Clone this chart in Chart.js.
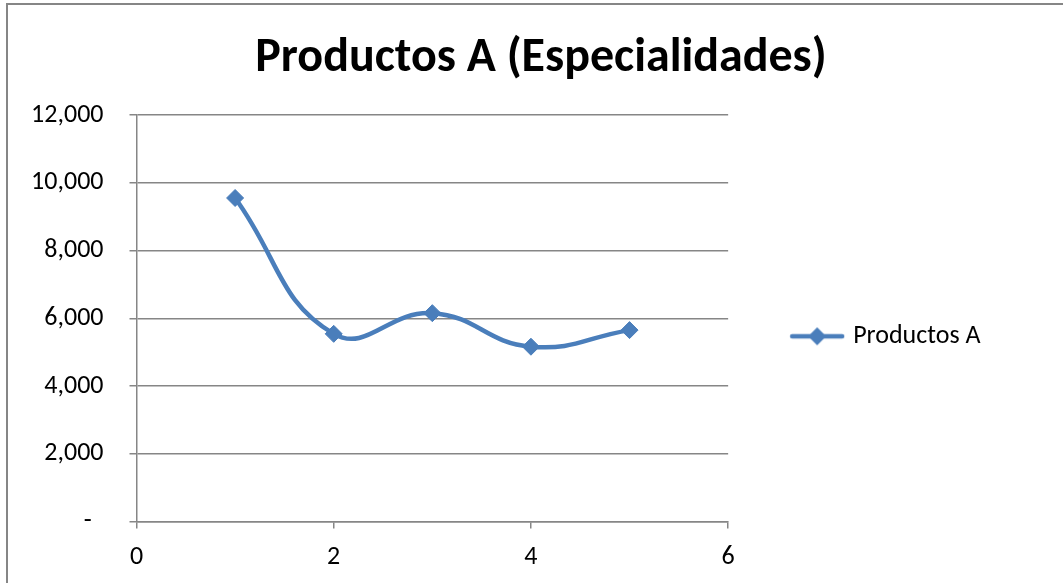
<!DOCTYPE html>
<html>
<head>
<meta charset="utf-8">
<script src="https://cdn.jsdelivr.net/npm/chart.js@4/dist/chart.umd.min.js"></script>
<style>
  html, body { margin: 0; padding: 0; background: #ffffff; }
  #wrap { width: 1063px; height: 583px; position: relative; }
</style>
</head>
<body>
<div id="wrap"><canvas id="c" width="1063" height="583"></canvas></div>
<script>
const chartTitle = 'Productos A (Especialidades)';
const seriesName = 'Productos A';
const xValues = [1, 2, 3, 4, 5];
const yValues = [9550, 5540, 6150, 5160, 5650];
const yTickValues = [0, 2000, 4000, 6000, 8000, 10000, 12000];
const xTickValues = [0, 2, 4, 6];

const FONT = "Carlito, Calibri, Lato, 'Open Sans', sans-serif";
const LINE_COLOR = '#4A7EBB';
const AXIS_GRAY = '#868686';

const PAD_LEFT = 0;
const PAD_RIGHT = -19;
const PLOT_LEFT = 136.5;
const RIGHT_SPACER = 91.5;

// legend marker: line with a diamond
function makeLegendMarker() {
  const c = document.createElement('canvas');
  c.width = 56; c.height = 22;
  const g = c.getContext('2d');
  g.strokeStyle = LINE_COLOR; g.lineWidth = 4.5; g.lineCap = 'round';
  g.beginPath(); g.moveTo(3, 11); g.lineTo(53, 11); g.stroke();
  g.fillStyle = LINE_COLOR;
  g.beginPath(); g.moveTo(28, 2); g.lineTo(37, 11); g.lineTo(28, 20); g.lineTo(19, 11); g.closePath(); g.fill();
  return c;
}
const legendMarker = makeLegendMarker();

const framePlugin = {
  id: 'frame',
  beforeDraw(chart) {
    const ctx = chart.ctx;
    ctx.save();
    ctx.fillStyle = '#ffffff';
    ctx.fillRect(0, 0, chart.width, chart.height);
    ctx.strokeStyle = AXIS_GRAY;
    ctx.lineWidth = 2;
    ctx.strokeRect(7, 4, chart.width + 20, chart.height + 20);
    ctx.restore();
  }
};

new Chart(document.getElementById('c'), {
  type: 'line',
  data: {
    datasets: [{
      label: seriesName,
      data: xValues.map((x, i) => ({ x: x, y: yValues[i] })),
      borderColor: LINE_COLOR,
      backgroundColor: LINE_COLOR,
      borderWidth: 4.5,
      tension: 0.45,
      pointStyle: 'rectRot',
      pointRadius: 8.5,
      pointBorderWidth: 1,
      pointBackgroundColor: LINE_COLOR,
      pointBorderColor: LINE_COLOR,
      fill: false
    }]
  },
  options: {
    responsive: false,
    animation: false,
    events: [],
    layout: { padding: { left: PAD_LEFT, right: PAD_RIGHT, top: 0, bottom: 0 } },
    plugins: {
      title: {
        display: true,
        text: chartTitle,
        color: '#000000',
        font: { family: FONT, size: 48, weight: 'bold', lineHeight: 1.2 },
        padding: { top: 30, bottom: 27.4 }
      },
      legend: {
        display: true,
        position: 'right',
        align: 'center',
        maxWidth: 400,
        title: { display: true, text: ' ', padding: { top: 56, bottom: 0 }, font: { size: 28, lineHeight: 1.2 } },
        labels: {
          usePointStyle: true,
          pointStyleWidth: 46,
          padding: 66,
          color: '#000000',
          font: { family: FONT, size: 26 },
          generateLabels(chart) {
            return chart.data.datasets.map((ds, i) => ({
              text: ds.label,
              pointStyle: legendMarker,
              fillStyle: ds.borderColor,
              strokeStyle: ds.borderColor,
              fontColor: '#000000',
              lineWidth: 0,
              hidden: false,
              datasetIndex: i
            }));
          }
        }
      },
      tooltip: { enabled: false }
    },
    scales: {
      x: {
        type: 'linear',
        min: 0, max: 6,
        afterBuildTicks(scale) { scale.ticks = xTickValues.map(v => ({ value: v })); },
        afterFit(scale) { scale.height = 61.5; },
        grid: { drawOnChartArea: false, drawTicks: true, tickLength: 7, color: AXIS_GRAY, lineWidth: 1.5 },
        border: { display: true, color: AXIS_GRAY, width: 1.5 },
        ticks: { color: '#000000', font: { family: FONT, size: 26 }, padding: 13, maxRotation: 0 }
      },
      y: {
        type: 'linear',
        min: 0, max: 12000,
        afterBuildTicks(scale) { scale.ticks = yTickValues.map(v => ({ value: v })); },
        afterFit(scale) { scale.width = PLOT_LEFT - PAD_LEFT; },
        grid: { drawOnChartArea: true, drawTicks: true, tickLength: 7, color: AXIS_GRAY, lineWidth: 1.5 },
        border: { display: true, color: AXIS_GRAY, width: 1.5 },
        ticks: {
          color: '#000000',
          font: { family: FONT, size: 26 },
          padding: 26,
          callback: v => v === 0 ? '-  ' : v.toLocaleString('en-US')
        }
      },
      spacer: {
        type: 'linear',
        position: 'right',
        display: true,
        weight: 2000,
        afterFit(scale) { scale.width = RIGHT_SPACER; },
        grid: { display: false, drawTicks: false },
        border: { display: false },
        ticks: { display: false }
      }
    }
  },
  plugins: [framePlugin]
});
</script>
</body>
</html>
